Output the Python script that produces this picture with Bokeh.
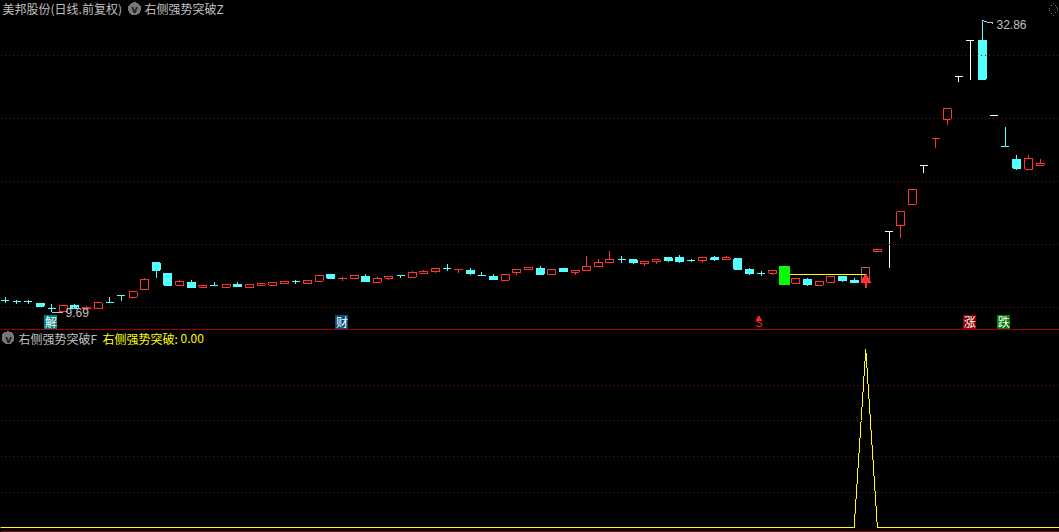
from bokeh.plotting import figure
from bokeh.layouts import column
from bokeh.models import Range1d, Span, Label
from bokeh.core.properties import value
from bokeh.embed import file_html
from bokeh.resources import INLINE

kinds = [
 "c","c","c","c","c","r","c","r","r","c",
 "c","r","r","c","c","r","c","r","c","r",
 "c","r","r","r","r","c","r","r","c","r",
 "r","c","r","r","c","r","r","r","c","r",
 "c","c","c","r","r","r","c","r","c","r",
 "r","r","r","c","c","r","r","c","c","c",
 "r","c","r","c","c","c","r","g","r","c",
 "r","r","c","c","q","r","w","r","r","w",
 "r","r","w","w","c","w","c","c","r","r"]
opens = [10.19,10.13,10.13,10.06,9.86,9.74,9.98,9.87,9.86,10.11,
 10.39,10.33,10.68,11.92,11.42,10.87,10.99,10.77,10.84,10.77,
 10.90,10.77,10.87,10.87,10.95,11.03,10.96,11.05,11.37,11.15,
 11.15,11.28,11.00,11.18,11.32,11.24,11.42,11.48,11.67,11.60,
 11.57,11.31,11.28,11.10,11.45,11.58,11.67,11.34,11.67,11.47,
 11.53,11.73,11.93,12.10,12.07,11.88,11.97,12.17,12.22,12.05,
 12.02,12.17,12.07,12.12,11.62,11.40,11.42,11.76,10.96,11.13,
 10.87,11.00,11.28,11.09,11.12,12.49,13.58,13.96,15.24,17.90,
 20.03,21.75,25.97,30.19,30.23,22.06,19.38,18.38,17.65,17.94]
highs = [10.32,10.19,10.19,10.10,10.02,9.97,10.06,9.94,10.09,10.32,
 10.39,10.57,11.18,11.92,11.42,11.09,11.09,10.85,10.99,10.89,
 10.99,10.89,10.92,10.98,11.03,11.09,11.07,11.31,11.37,11.23,
 11.31,11.37,11.23,11.28,11.32,11.52,11.57,11.65,11.87,11.62,
 11.67,11.47,11.37,11.36,11.60,11.70,11.76,11.60,11.67,11.55,
 12.27,12.12,12.54,12.27,12.12,12.00,12.07,12.17,12.33,12.12,
 12.21,12.27,12.27,12.17,11.67,11.52,11.57,11.76,11.17,11.18,
 11.03,11.26,11.28,11.18,11.71,12.59,13.58,14.76,16.19,17.90,
 20.03,22.71,25.97,30.19,32.86,22.06,21.09,18.76,18.69,18.38]
lows = [10.10,10.06,10.06,9.94,9.69,9.74,9.85,9.81,9.86,10.11,
 10.15,10.33,10.68,11.20,10.82,10.87,10.72,10.72,10.81,10.77,
 10.81,10.73,10.81,10.87,10.90,10.90,10.96,11.05,11.13,11.07,
 11.15,10.99,10.95,11.09,11.18,11.24,11.37,11.42,11.52,11.42,
 11.32,11.28,11.09,11.10,11.32,11.58,11.37,11.34,11.52,11.32,
 11.53,11.73,11.93,11.93,11.87,11.76,11.87,11.97,11.92,11.97,
 11.92,12.02,12.07,11.57,11.32,11.28,11.32,10.90,10.96,10.81,
 10.87,10.95,10.99,10.99,11.12,12.49,11.69,13.23,15.18,17.33,
 19.26,21.18,25.36,25.57,25.68,22.06,19.38,17.55,17.55,17.94]
closes = [10.19,10.13,10.13,9.94,9.86,9.97,9.85,9.89,10.09,10.11,
 10.39,10.57,11.12,11.57,10.85,11.04,10.76,10.85,10.84,10.89,
 10.81,10.89,10.92,10.98,11.03,11.03,11.07,11.31,11.18,11.18,
 11.31,11.04,11.17,11.28,11.32,11.45,11.52,11.65,11.67,11.62,
 11.42,11.31,11.13,11.36,11.60,11.70,11.37,11.60,11.52,11.55,
 11.75,11.95,12.10,12.10,11.92,12.00,12.07,12.02,11.97,12.05,
 12.21,12.07,12.17,11.62,11.42,11.40,11.57,10.90,11.17,10.90,
 11.03,11.26,11.09,10.99,11.71,12.59,13.58,14.76,16.19,17.90,
 20.03,22.71,25.97,30.19,25.68,22.06,19.38,17.70,18.43,18.07]

grid_prices = [28.35, 21.78, 16.74, 12.86, 9.88]
tag_index = [3.94, 28.96, 64.8, 82.94, 85.87]
tag_text = ["解", "财", "S", "涨", "跌"]
tag_fill = ["#008080", "#0a4a7c", "#000000", "#8b0000", "#007a00"]
tag_color = ["#ffffff", "#ffffff", "#ff2020", "#ffffff", "#ffffff"]
signal_start, signal_end, signal_price = 67, 74, 11.35
low_price, high_price = 9.69, 32.86

indicator_x = [-1, 73, 74, 75, 91]
indicator_y = [0.0, 0.0, 1.0, 0.0, 0.0]
indicator_grid = [0.2, 0.4, 0.6, 0.8]

RED = "#ff3232"; CYAN = "#54ffff"; WHITE = "#ffffff"; GREEN = "#00ff00"
GRID = "#7a1414"; SEP = "#a00000"; GREY = "#c0c0c0"; ICON = "#777777"
CJK = "Noto Sans CJK SC"
PX = 11.63
X_RANGE = (-4.65 / PX, (1059 - 4.65) / PX)
LINE = {"r": RED, "c": CYAN, "w": WHITE, "g": GREEN, "q": "#a86060"}
FILL = {"r": "#000000", "c": CYAN, "w": WHITE, "g": GREEN, "q": "#000000"}
CRISP = {"shape-rendering": "crispEdges"}

def make_fig(h, **kw):
    f = figure(width=1059, height=h, output_backend="svg", toolbar_location=None,
               x_axis_location=None, y_axis_location=None, min_border=0,
               background_fill_color="#000000", border_fill_color="#000000",
               outline_line_color=None, x_range=Range1d(*X_RANGE), **kw)
    f.grid.visible = False
    f.styles = CRISP
    return f

def header(f, h, x, y, text, color=GREY):
    f.add_layout(Label(x=x, y=h - y, x_units="screen", y_units="screen", text=text,
                       text_color=color, text_font=CJK, text_font_size="12px",
                       text_baseline="middle"))

def chevron(f, h, x, y, dx, dy):
    f.scatter([dx], [dy], marker="circle", size=13, fill_color=ICON, line_color=None)
    f.add_layout(Label(x=x, y=h - y - 1, x_units="screen", y_units="screen", text="v",
                       text_color="#1c1c1c", text_font="DejaVu Sans", text_font_size="10px",
                       text_font_style="bold", text_align="center", text_baseline="middle"))

p = make_fig(330, y_axis_type="log", y_range=Range1d(8.987, 35.72))
for g in grid_prices:
    p.add_layout(Span(location=g, dimension="width", line_color=GRID, line_dash="1 3", line_width=1))

xs = list(range(len(kinds)))
p.segment(xs, highs, xs, lows, line_color=[LINE[k] for k in kinds], line_width=1)
p.vbar(xs, width=[0.86 if k == "g" else 0.688 for k in kinds],
       top=[max(o, c) for o, c in zip(opens, closes)],
       bottom=[min(o, c) for o, c in zip(opens, closes)],
       fill_color=[FILL[k] for k in kinds], line_color=[LINE[k] for k in kinds], line_width=1)

p.segment([signal_start + 0.47], [signal_price], [signal_end], [signal_price],
          line_color="#ffff00", line_width=1)
p.segment([signal_end], [11.12], [signal_end], [10.72], line_color=RED, line_width=2)
p.scatter([signal_end], [11.12], marker="triangle", size=10, fill_color=RED, line_color=RED)

p.line([4, 4.95], [low_price, low_price], line_color=GREY, line_width=1)
p.text([5.19], [low_price], text=["9.69"], text_color=GREY, text_font=value("Liberation Sans"),
       text_font_size="12px", text_baseline="middle")
p.line([84, 84.26, 84.51, 84.76, 84.98], [high_price, 32.75, 32.6, 32.6, 32.45], line_color=GREY, line_width=1)
p.text([85.24], [32.3], text=["32.86"], text_color=GREY, text_font=value("Liberation Sans"),
       text_font_size="12px", text_baseline="middle")

p.vbar(tag_index, width=1.12, top=[9.57] * 5, bottom=[9.06] * 5, fill_color=tag_fill, line_color=None)
p.text(tag_index, [9.33] * 5, text=tag_text, text_color=tag_color, text_font=value(CJK),
       text_font_size="12px", text_align="center", text_baseline="middle")
p.scatter([64.8], [9.43], marker="triangle", size=5, fill_color="#ff2020", line_color="#ff2020")

header(p, 330, 2, 8, "美邦股份(日线.前复权)")
chevron(p, 330, 134, 8, 11.12, 34.5)
header(p, 330, 144, 8, "右侧强势突破Z")
p.scatter([90.14], [34.4], marker="diamond", size=13, fill_color=None, line_color="#6a6a6a", line_dash="1 1")
p.add_layout(Span(location=9.025, dimension="width", line_color=SEP, line_width=1))

q = make_fig(202, y_range=Range1d(-0.0264, 1.1066))
for g in indicator_grid:
    q.add_layout(Span(location=g, dimension="width", line_color=GRID, line_dash="1 3", line_width=1))
q.line(indicator_x, indicator_y, line_color="#ffff00", line_width=1)
q.add_layout(Span(location=-0.0208, dimension="width", line_color=SEP, line_width=1))
chevron(q, 202, 8, 8, 0.245, 1.0656)
header(q, 202, 18, 8, "右侧强势突破F")
header(q, 202, 102, 8, "右侧强势突破:", "#ffff00")
header(q, 202, 180, 8, "0.00", "#ffff00")

page = column(p, q, spacing=0)
page.styles = {"background-color": "#000000", "shape-rendering": "crispEdges"}
open("out.html", "w").write(file_html(page, INLINE))
